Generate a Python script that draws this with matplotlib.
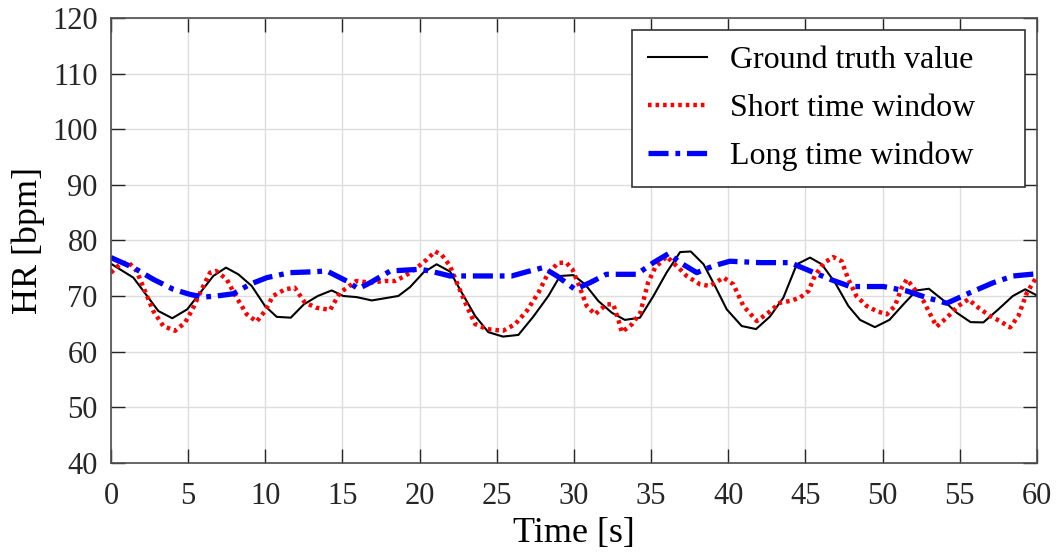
import matplotlib
matplotlib.use("Agg")
from matplotlib import pyplot as plt

# Ground truth heart rate (vertices)
t_truth = [0, 1.45, 3.07, 3.97, 4.94, 6.63, 7.45, 8.25, 9.12, 9.98, 10.74, 11.65,
           12.5, 13.4, 14.3, 15.05, 15.92, 16.9, 17.76, 18.62, 19.38, 20.24, 21.1,
           21.97, 22.73, 23.6, 24.45, 25.4, 26.4, 27.37, 28.34, 29.1, 29.96, 30.72,
           31.58, 32.45, 33.3, 34.28, 35.15, 36.0, 36.88, 37.57, 38.4, 39.14, 39.9,
           40.87, 41.8, 42.7, 43.57, 44.44, 45.3, 46.06, 46.92, 47.78, 48.54, 49.5,
           50.44, 51.35, 52.2, 53.0, 53.9, 54.8, 55.7, 56.53, 57.5, 58.44, 59.24, 60]
hr_truth = [75.8, 73.3, 67.3, 66.0, 67.6, 73.6, 75.1, 73.9, 71.8, 68.2, 66.25, 66.1,
            68.5, 70.0, 71.0, 70.0, 69.8, 69.2, 69.6, 70.0, 71.6, 74.2, 75.7,
            74.4, 70.6, 66.4, 63.5, 62.7, 63.0, 66.3, 70.0, 73.6, 73.75, 72.1,
            69.1, 67.0, 65.7, 66.1, 70.0, 74.2, 77.9, 78.0, 75.7, 71.8, 67.6,
            64.6, 64.05, 66.3, 69.7, 75.7, 76.9, 75.7, 72.4, 68.2, 65.7, 64.4,
            65.7, 68.5, 71.0, 71.3, 69.3, 67.0, 65.3, 65.25, 67.6, 70.0, 71.2, 70.1]

# Short time window estimate
t_short = [0, 0.58, 1.12, 1.66, 2.2, 2.74, 3.39, 4.15, 4.8, 5.33, 5.88, 6.42, 6.8,
           7.5, 8.14, 8.8, 9.44, 9.98, 10.5, 11.28, 11.9, 12.57, 13.3, 14.2, 14.84,
           15.9, 16.8, 17.76, 18.4, 19.05, 19.7, 20.46, 21.0, 21.43, 21.97, 22.5,
           23.05, 23.6, 24.35, 25.4, 26.18, 26.94, 27.7, 28.34, 28.99, 29.5, 29.9,
           30.3, 30.83, 31.37, 32.1, 32.55, 32.9, 33.1, 33.75, 34.3, 34.8, 35.26,
           36.0, 36.88, 37.3, 38.17, 38.8, 39.7, 40.33, 40.98, 41.85, 42.6, 43.36,
           44.0, 44.65, 45.2, 45.6, 46.2, 46.8, 47.35, 47.78, 48.3, 48.97, 49.6,
           50.27, 50.8, 51.24, 51.57, 52.0, 52.65, 53.2, 53.5, 54.16, 54.9, 55.56,
           56.2, 56.97, 57.6, 58.26, 58.8, 59.35, 60]
hr_short = [74.2, 75.7, 76.1, 74.5, 70.9, 67.3, 64.6, 63.75, 65.2, 67.9, 71.2, 74.2, 74.5,
            73.0, 69.7, 66.7, 65.4, 67.3, 70.0, 71.2, 71.5, 68.8, 67.9, 67.5, 70.6,
            72.7, 72.4, 72.7, 72.7, 73.6, 74.8, 76.55, 78.0, 77.4, 75.4, 71.8,
            68.2, 64.95, 64.05, 63.75, 64.9, 67.3, 70.6, 74.2, 75.95, 76.0, 74.8,
            72.1, 68.2, 66.7, 68.5, 68.5, 65.5, 63.5, 64.9, 67.0, 72.4, 75.1,
            77.1, 74.8, 73.6, 72.1, 71.8, 73.3, 72.1, 68.2, 65.5, 67.0, 68.8,
            69.1, 69.7, 70.9, 73.6, 75.95, 77.0, 76.25, 73.0, 70.0, 68.2, 67.3,
            66.7, 68.2, 71.5, 73.0, 71.5, 69.1, 66.1, 64.5, 66.1, 68.2, 69.4,
            67.9, 66.4, 65.5, 64.35, 66.4, 70.6, 73.5]

# Long time window estimate
t_long = [0, 1.45, 2.74, 4.04, 5.1, 5.98, 6.85, 7.93, 9.0, 10.1, 11.6, 13.1, 13.98,
          15.27, 16.03, 16.8, 18.1, 20.0, 20.67, 21.97, 23.9, 25.97, 26.94, 28.0,
          28.9, 30.07, 31.04, 32.1, 34.07, 35.15, 36.12, 36.88, 37.96, 39.03, 40.1,
          42.06, 44.0, 45.3, 46.6, 47.9, 50.05, 51.57, 52.86, 54.16, 55.67, 57.18,
          58.47, 60]
hr_long = [76.9, 75.1, 73.0, 71.2, 70.3, 69.8, 70.0, 70.4, 72.1, 73.3, 74.2, 74.35, 74.5,
           72.7, 71.3, 72.4, 74.5, 74.8, 74.5, 73.6, 73.6, 73.6, 74.35, 75.1,
           73.6, 71.2, 72.4, 73.9, 73.9, 76.0, 77.6, 76.0, 74.2, 75.4, 76.25,
           76.0, 76.0, 74.5, 73.0, 71.7, 71.7, 70.9, 69.7, 68.7, 70.6, 72.4,
           73.6, 74.0]

plt.rcParams['font.family'] = ['Liberation Serif', 'DejaVu Serif']

fig = plt.figure(figsize=(10.57, 5.59), dpi=100)
ax = fig.add_axes([0.105, 0.172, 0.876, 0.796])

ax.plot(t_truth, hr_truth, color='black', lw=1.5, label="Ground truth value")
ax.plot(t_short, hr_short, color='red', lw=3.2, linestyle=(0, (0.8, 0.9)),
        label="Short time window")
ax.plot(t_long, hr_long, color='blue', lw=3.8, linestyle=(0, (3.8, 1.3, 0.9, 1.3)),
        label="Long time window")

ax.set_xlim(0, 60)
ax.set_ylim(40, 120)
ax.set_xticks(range(0, 61, 5))
ax.set_yticks(range(40, 121, 10))
ax.grid(True, color='#dddddd', lw=1)
ax.set_axisbelow(True)
ax.tick_params(direction='in', length=10, width=1, labelsize=22, colors='#262626',
               top=True, right=True)
ax.tick_params(axis='x', pad=14)
ax.tick_params(axis='y', pad=9.5)
for s in ax.spines.values():
    s.set_color('#4d4d4d')
    s.set_linewidth(1.2)

ax.set_xlabel("Time [s]", fontsize=26, labelpad=4)
ax.set_ylabel("HR [bpm]", fontsize=26, labelpad=5)

# legend box stretched like the original (extra room on the right)
leg = ax.legend(loc='upper left', bbox_to_anchor=(0.5626, 0.627, 0.4244, 0.346),
                mode='expand', fontsize=23, handlelength=1.84, handletextpad=0.72,
                labelspacing=0.58, borderpad=0.5, borderaxespad=0,
                fancybox=False, framealpha=1)
leg.get_frame().set_edgecolor('#333333')
leg.get_frame().set_linewidth(1.2)

fig.savefig("out.png", dpi=100)
